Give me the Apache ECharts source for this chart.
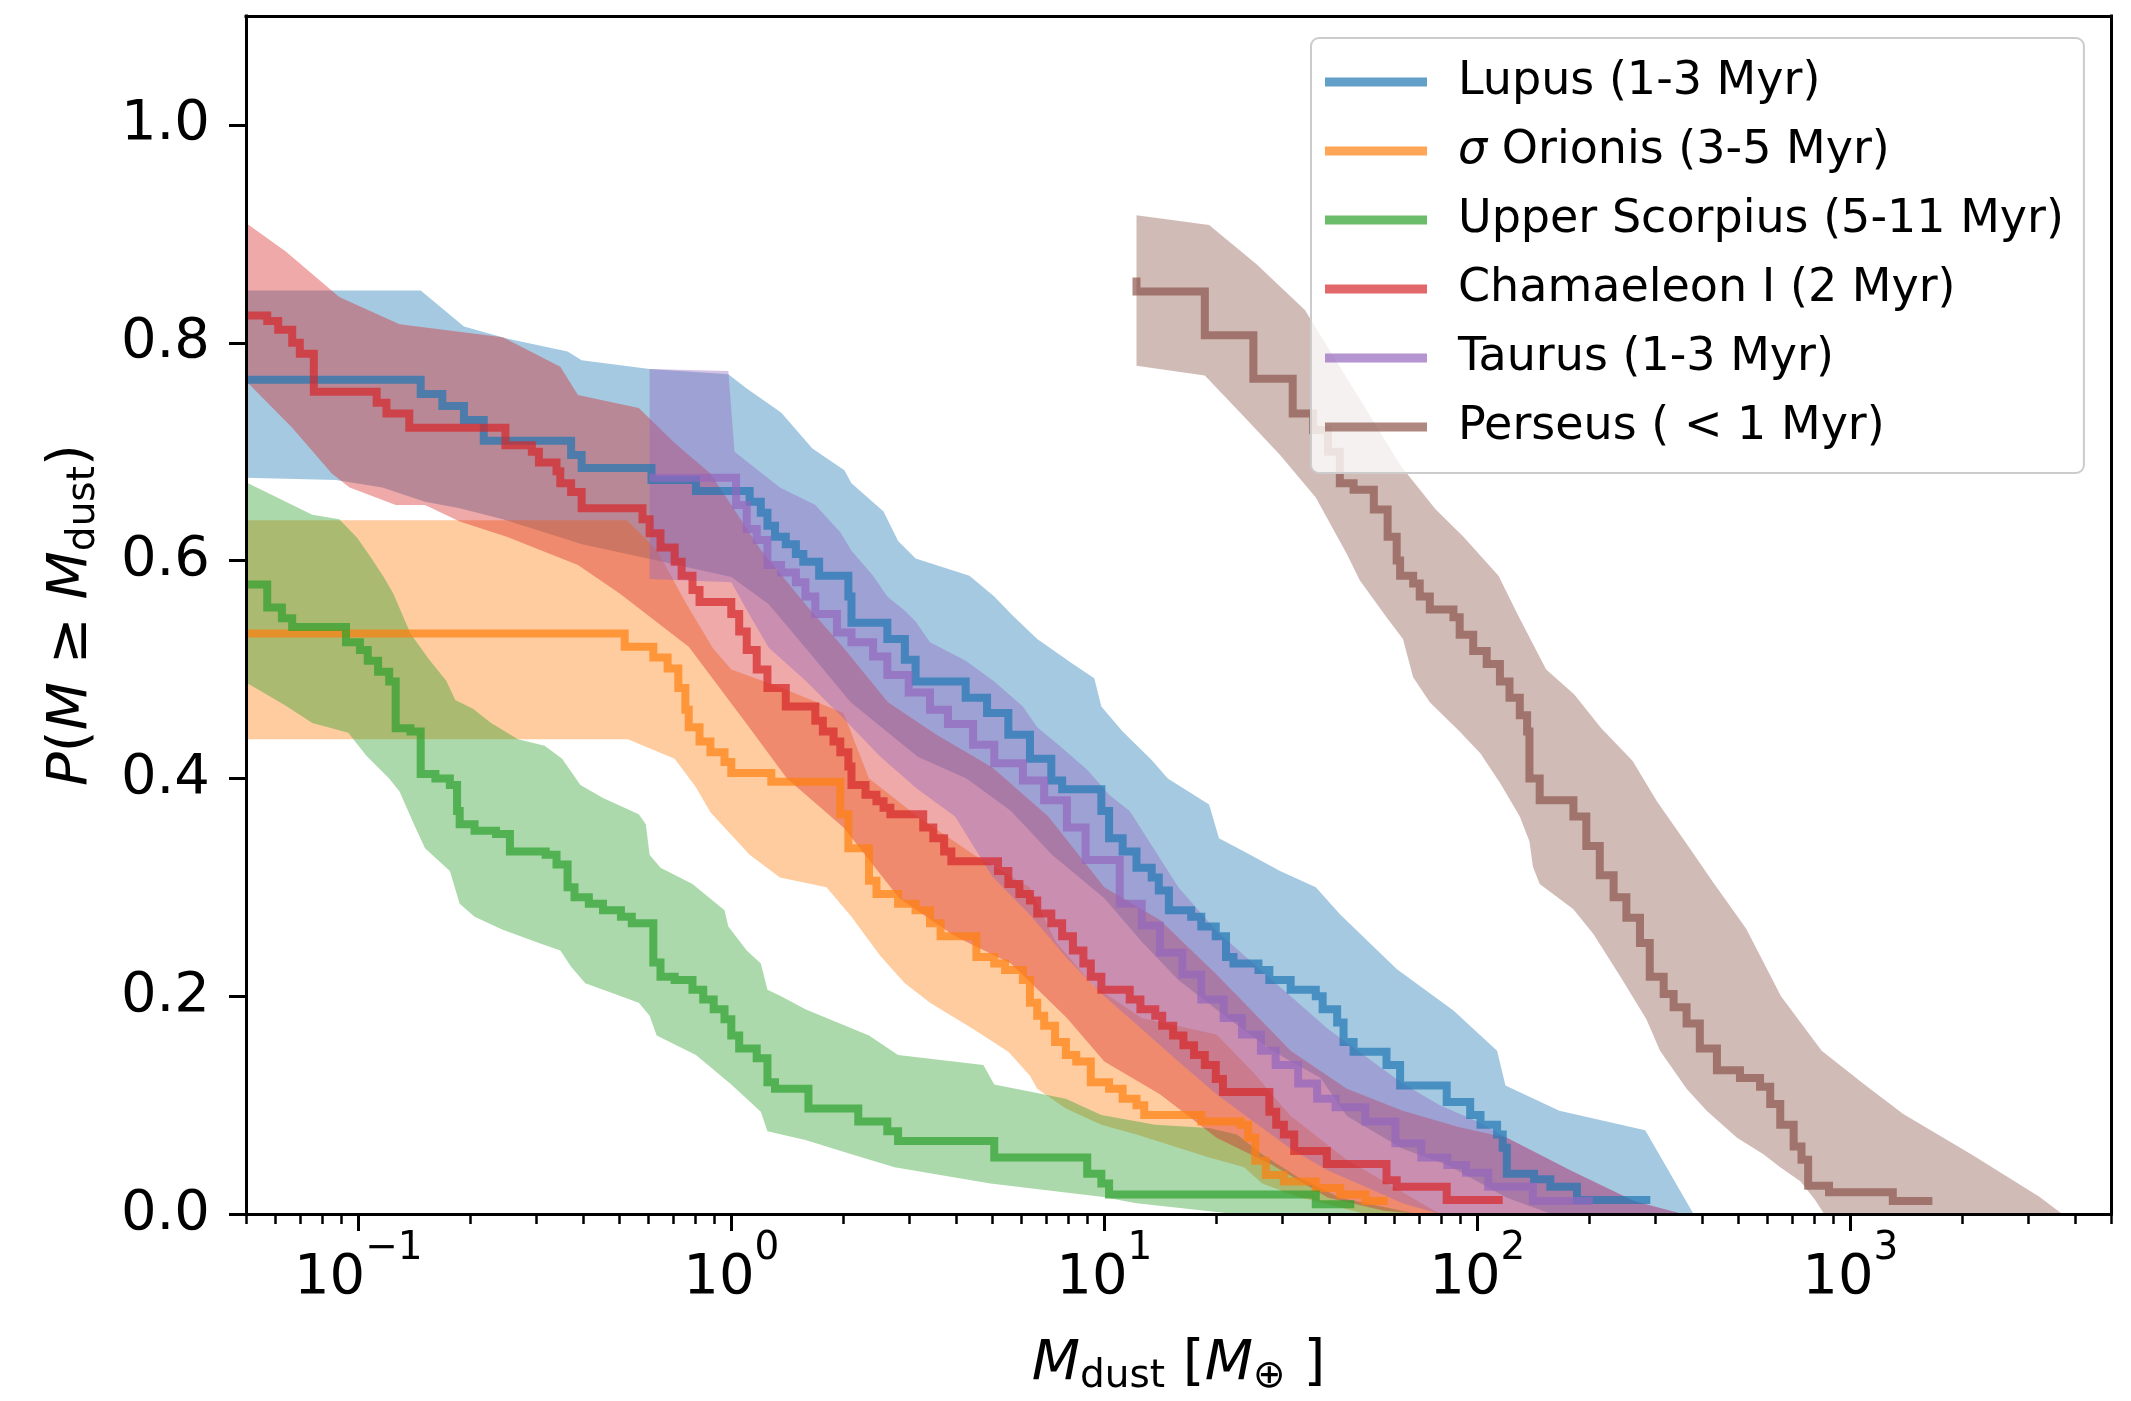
<!DOCTYPE html>
<html>
<head>
<meta charset="utf-8">
<script src="https://cdn.jsdelivr.net/npm/echarts@6/dist/echarts.min.js"></script>
<style>
  html, body { margin: 0; padding: 0; background: #ffffff; }
  #chart { width: 2131px; height: 1401px; }
</style>
</head>
<body>
<div id="chart"></div>
<script>
// Cumulative dust-mass distributions P(M >= Mdust) per star-forming region.
// Each line is a list of [Mdust (Earth masses), probability] step points;
// *Hi / *Lo are the upper and lower edges of the confidence band.

const lupusLine = [[0.05,0.766],[0.147,0.753],[0.168,0.742],[0.192,0.729],[0.217,0.710],[0.372,0.697],[0.397,0.685],[0.611,0.674],[0.804,0.664],[1.12,0.654],[1.20,0.644],[1.25,0.632],[1.31,0.622],[1.40,0.615],[1.49,0.606],[1.56,0.599],[1.72,0.586],[2.06,0.567],[2.10,0.543],[2.62,0.528],[2.92,0.509],[3.12,0.489],[4.25,0.474],[4.85,0.460],[5.53,0.440],[6.32,0.418],[7.21,0.398],[7.71,0.390],[9.82,0.370],[10.3,0.345],[11.2,0.333],[12.2,0.318],[13.4,0.309],[14.0,0.297],[14.9,0.279],[17.1,0.273],[18.2,0.264],[19.9,0.255],[21.2,0.236],[22.2,0.230],[25.9,0.224],[27.7,0.215],[31.6,0.206],[36.9,0.200],[38.5,0.188],[42.1,0.176],[43.8,0.158],[46.6,0.149],[57.1,0.137],[62.1,0.118],[82.8,0.103],[95.7,0.091],[102,0.082],[113,0.073],[117,0.061],[120,0.037],[142,0.032],[157,0.025],[185,0.013],[291,0.013]];
const lupusHi = [[0.05,0.848],[0.147,0.848],[0.192,0.815],[0.250,0.804],[0.364,0.792],[0.397,0.784],[0.604,0.776],[0.982,0.771],[1.10,0.758],[1.36,0.736],[1.65,0.703],[2.01,0.683],[2.10,0.671],[2.56,0.645],[2.80,0.618],[3.12,0.602],[4.35,0.586],[5.07,0.567],[5.66,0.550],[6.61,0.528],[8.24,0.505],[9.40,0.492],[9.82,0.466],[11.2,0.443],[13.4,0.417],[14.8,0.400],[19.1,0.376],[20.3,0.345],[23.7,0.333],[29.6,0.315],[36.9,0.300],[42.9,0.275],[60.8,0.225],[86.3,0.187],[113,0.150],[119,0.118],[166,0.095],[282,0.077],[380,0]];
const lupusLo = [[0.05,0.676],[0.0871,0.674],[0.116,0.667],[0.151,0.654],[0.187,0.648],[0.244,0.638],[0.398,0.615],[0.631,0.600],[1.0,0.585],[1.26,0.56],[1.58,0.52],[2.09,0.47],[3.16,0.42],[4.27,0.40],[5.62,0.37],[7.24,0.33],[10,0.29],[12.6,0.25],[15.8,0.215],[21.4,0.18],[28.2,0.15],[38.0,0.125],[44.7,0.09],[63.1,0.06],[83.2,0.045],[120,0.015],[158,0]];

const sOriLine = [[0.05,0.533],[0.518,0.521],[0.618,0.511],[0.675,0.501],[0.721,0.483],[0.753,0.463],[0.769,0.447],[0.822,0.434],[0.879,0.424],[0.959,0.415],[1.00,0.405],[1.28,0.397],[1.96,0.367],[2.06,0.336],[2.34,0.306],[2.45,0.294],[2.80,0.285],[3.12,0.279],[3.41,0.267],[3.64,0.255],[4.54,0.236],[5.07,0.230],[5.42,0.224],[6.05,0.215],[6.32,0.194],[6.61,0.182],[6.90,0.173],[7.38,0.158],[7.89,0.146],[8.41,0.140],[9.20,0.121],[10.3,0.115],[11.2,0.106],[12.2,0.100],[12.8,0.091],[18.2,0.085],[23.2,0.082],[24.3,0.070],[25.4,0.049],[27.1,0.036],[30.3,0.030],[36.9,0.024],[42.9,0.018],[50.1,0.012],[57.5,0.012]];
const sOriHi = [[0.05,0.637],[0.525,0.637],[0.631,0.61],[0.759,0.56],[0.891,0.52],[1.0,0.50],[1.32,0.485],[2.0,0.46],[2.34,0.40],[3.16,0.365],[4.47,0.33],[6.31,0.30],[7.41,0.25],[9.33,0.21],[12.6,0.18],[20.0,0.165],[25.1,0.13],[31.6,0.09],[44.7,0.05],[63.1,0.02],[79.4,0]];
const sOriLo = [[0.05,0.436],[0.528,0.436],[0.705,0.418],[0.804,0.392],[0.879,0.369],[1.12,0.33],[1.35,0.309],[1.80,0.300],[2.10,0.273],[2.51,0.237],[2.92,0.212],[3.41,0.194],[4.45,0.170],[5.53,0.149],[6.32,0.127],[6.61,0.115],[7.89,0.097],[9.82,0.082],[12.2,0.073],[19.1,0.052],[23.7,0.043],[26.5,0.028],[33.0,0.016],[42.9,0.006],[50.1,0]];

const uScoLine = [[0.05,0.578],[0.0570,0.557],[0.0624,0.547],[0.0665,0.539],[0.0927,0.525],[0.101,0.518],[0.106,0.508],[0.113,0.498],[0.121,0.489],[0.126,0.446],[0.138,0.443],[0.147,0.404],[0.161,0.400],[0.176,0.394],[0.184,0.370],[0.187,0.358],[0.205,0.352],[0.234,0.349],[0.255,0.333],[0.318,0.330],[0.340,0.321],[0.364,0.300],[0.380,0.291],[0.415,0.285],[0.453,0.279],[0.506,0.273],[0.541,0.267],[0.618,0.231],[0.646,0.218],[0.705,0.215],[0.787,0.206],[0.841,0.197],[0.897,0.188],[0.959,0.179],[1.00,0.164],[1.05,0.152],[1.17,0.143],[1.25,0.121],[1.31,0.115],[1.61,0.097],[2.19,0.085],[2.62,0.076],[2.80,0.067],[5.07,0.052],[9.0,0.037],[9.82,0.028],[10.3,0.018],[36.9,0.009],[46.8,0.009]];
const uScoHi = [[0.05,0.672],[0.0753,0.642],[0.0889,0.638],[0.0993,0.621],[0.108,0.603],[0.117,0.585],[0.124,0.570],[0.138,0.533],[0.155,0.509],[0.172,0.490],[0.182,0.472],[0.203,0.464],[0.227,0.451],[0.268,0.436],[0.316,0.430],[0.352,0.418],[0.394,0.394],[0.453,0.382],[0.565,0.367],[0.590,0.358],[0.604,0.330],[0.646,0.318],[0.787,0.303],[0.959,0.279],[0.982,0.264],[1.10,0.242],[1.20,0.230],[1.25,0.206],[1.36,0.200],[1.58,0.188],[2.34,0.164],[2.80,0.146],[4.74,0.137],[5.07,0.119],[7.89,0.106],[9.82,0.091],[13.7,0.082],[19.1,0.079],[22.7,0.073],[26.5,0.055],[33.0,0.034],[42.9,0.015],[69.2,0]];
const uScoLo = [[0.05,0.488],[0.0638,0.467],[0.0753,0.451],[0.0940,0.442],[0.105,0.421],[0.121,0.400],[0.129,0.388],[0.141,0.358],[0.151,0.336],[0.176,0.315],[0.187,0.285],[0.205,0.273],[0.244,0.261],[0.305,0.249],[0.348,0.242],[0.372,0.227],[0.406,0.212],[0.565,0.194],[0.604,0.182],[0.631,0.164],[0.804,0.146],[1.00,0.119],[1.20,0.094],[1.25,0.076],[1.58,0.068],[2.10,0.055],[2.74,0.043],[4.95,0.028],[9.82,0.016],[12.2,0.010],[22.4,0]];

const chamLine = [[0.05,0.825],[0.0570,0.820],[0.0610,0.812],[0.0665,0.800],[0.0697,0.790],[0.0760,0.755],[0.112,0.745],[0.119,0.735],[0.137,0.722],[0.248,0.706],[0.292,0.700],[0.305,0.690],[0.340,0.682],[0.348,0.671],[0.372,0.663],[0.397,0.648],[0.578,0.638],[0.604,0.625],[0.646,0.612],[0.705,0.599],[0.736,0.586],[0.787,0.573],[0.822,0.562],[1.00,0.551],[1.05,0.535],[1.10,0.518],[1.17,0.500],[1.25,0.483],[1.40,0.466],[1.68,0.453],[1.76,0.443],[1.88,0.434],[1.96,0.424],[2.06,0.411],[2.10,0.394],[2.29,0.385],[2.45,0.379],[2.56,0.373],[2.67,0.367],[3.27,0.355],[3.48,0.345],[3.72,0.333],[3.89,0.324],[5.19,0.315],[5.53,0.303],[5.92,0.294],[6.32,0.288],[6.61,0.276],[7.21,0.267],[7.71,0.255],[8.24,0.242],[8.79,0.230],[9.20,0.218],[9.82,0.206],[11.7,0.197],[12.5,0.188],[13.7,0.182],[14.3,0.173],[15.3,0.164],[16.3,0.155],[17.4,0.146],[18.6,0.137],[19.9,0.124],[20.8,0.112],[27.7,0.094],[28.9,0.082],[30.3,0.073],[32.3,0.058],[39.5,0.046],[57.1,0.031],[60.8,0.025],[82.8,0.013],[117,0.013]];
const chamHi = [[0.05,0.910],[0.0638,0.884],[0.0889,0.842],[0.129,0.817],[0.244,0.805],[0.348,0.778],[0.388,0.752],[0.565,0.740],[0.705,0.708],[0.879,0.680],[1.20,0.610],[1.58,0.56],[2.00,0.52],[2.63,0.47],[3.55,0.44],[5.01,0.41],[7.08,0.365],[10,0.30],[14.1,0.27],[20,0.22],[31.6,0.15],[44.7,0.115],[63.1,0.095],[89.1,0.08],[120,0.07],[178,0.04],[263,0.012],[355,0]];
const chamLo = [[0.05,0.765],[0.0665,0.722],[0.0849,0.680],[0.0948,0.667],[0.126,0.651],[0.151,0.651],[0.187,0.636],[0.250,0.622],[0.388,0.596],[0.501,0.57],[0.769,0.521],[1.10,0.45],[1.41,0.40],[2.00,0.355],[2.82,0.29],[3.98,0.255],[5.62,0.23],[7.94,0.18],[10,0.14],[14.1,0.11],[20,0.07],[28.2,0.045],[39.8,0.015],[56.2,0.003],[70.8,0]];

const taurusLine = [[0.604,0.676],[1.03,0.651],[1.10,0.629],[1.17,0.619],[1.25,0.596],[1.36,0.589],[1.49,0.580],[1.58,0.567],[1.68,0.551],[1.92,0.534],[2.10,0.525],[2.40,0.512],[2.62,0.495],[2.99,0.479],[3.41,0.463],[3.81,0.450],[4.45,0.431],[5.07,0.414],[6.05,0.398],[6.90,0.380],[7.94,0.355],[8.91,0.325],[11.0,0.285],[12.6,0.265],[14.1,0.240],[16.2,0.220],[18.2,0.197],[20.9,0.180],[23.4,0.165],[26.3,0.150],[28.8,0.137],[33.1,0.120],[37.2,0.106],[41.7,0.098],[50.1,0.085],[60.3,0.065],[70.8,0.052],[83.2,0.045],[93.3,0.038],[107,0.025],[141,0.012],[204,0.012]];
const taurusHi = [[0.604,0.776],[0.982,0.774],[1.02,0.70],[1.35,0.667],[1.68,0.651],[1.96,0.626],[2.10,0.609],[2.40,0.586],[2.62,0.567],[2.92,0.554],[3.12,0.544],[3.41,0.525],[4.25,0.508],[5.07,0.489],[6.05,0.466],[6.61,0.447],[7.53,0.431],[9.0,0.408],[10.3,0.385],[11.7,0.370],[15.8,0.30],[20.0,0.26],[25.1,0.23],[31.6,0.20],[39.8,0.17],[50.1,0.145],[63.1,0.12],[79.4,0.10],[100,0.085],[120,0.07],[178,0.04],[263,0.012],[355,0]];
const taurusLo = [[0.604,0.583],[1.0,0.58],[1.12,0.55],[1.26,0.52],[1.58,0.49],[2.0,0.455],[2.51,0.42],[3.16,0.39],[3.98,0.365],[5.01,0.31],[6.31,0.275],[7.94,0.235],[10,0.20],[12.6,0.17],[15.8,0.14],[20,0.11],[25.1,0.085],[31.6,0.06],[39.8,0.04],[50.1,0.025],[63.1,0.01],[79.4,0]];

const perseusLine = [[12.2,0.860],[12.2,0.847],[18.6,0.807],[25.1,0.767],[32.0,0.735],[36.3,0.720],[39.8,0.700],[42.8,0.671],[46.6,0.665],[52.8,0.647],[57.5,0.622],[60.8,0.600],[62.1,0.586],[67.3,0.579],[70.1,0.567],[74.6,0.555],[86.3,0.548],[89.7,0.532],[97.5,0.517],[106,0.505],[115,0.489],[122,0.474],[130,0.458],[136,0.443],[138,0.400],[147,0.380],[181,0.365],[196,0.338],[213,0.311],[232,0.291],[251,0.272],[273,0.249],[290,0.218],[316,0.202],[336,0.190],[364,0.175],[395,0.152],[439,0.132],[506,0.125],[573,0.117],[610,0.101],[649,0.082],[705,0.062],[740,0.050],[771,0.026],[877,0.020],[1300,0.012],[1660,0.012]];
const perseusHi = [[12.2,0.917],[19.1,0.908],[25.6,0.872],[34.5,0.830],[62.7,0.686],[77.4,0.647],[91.8,0.622],[114,0.586],[129,0.549],[153,0.500],[182,0.477],[215,0.446],[261,0.416],[303,0.379],[359,0.343],[426,0.306],[526,0.262],[652,0.200],[838,0.150],[1100,0.118],[1387,0.092],[2109,0.055],[3213,0.016],[3700,0]];
const perseusLo = [[12.2,0.779],[18.6,0.770],[23.7,0.732],[29.6,0.697],[36.9,0.658],[44.7,0.606],[48.4,0.582],[57.1,0.548],[63.2,0.528],[67.3,0.493],[74.6,0.470],[89.7,0.443],[102,0.423],[115,0.396],[130,0.365],[138,0.342],[141,0.319],[147,0.303],[181,0.280],[205,0.257],[242,0.218],[284,0.179],[309,0.150],[364,0.115],[412,0.095],[497,0.070],[585,0.055],[649,0.043],[736,0.030],[805,0.013],[851,0]];

const regionNames = ['Lupus (1-3 Myr)', 'σ Orionis (3-5 Myr)', 'Upper Scorpius (5-11 Myr)', 'Chamaeleon I (2 Myr)', 'Taurus (1-3 Myr)', 'Perseus ( < 1 Myr)'];

// Axis ticks
const yTicks = [0, 0.2, 0.4, 0.6, 0.8, 1.0];
const xMajorTicks = [0.1, 1, 10, 100, 1000];
const xMinorTicks = [0.05, 0.06, 0.07, 0.08, 0.09, 0.2, 0.3, 0.4, 0.5, 0.6, 0.7, 0.8, 0.9,
  2, 3, 4, 5, 6, 7, 8, 9, 20, 30, 40, 50, 60, 70, 80, 90,
  200, 300, 400, 500, 600, 700, 800, 900, 2000, 3000, 4000, 5000];

// ---------------------------------------------------------------------------
const FONT = 'DejaVu Sans';
const palette = [[31,119,180],[255,127,14],[44,160,44],[214,39,40],[148,103,189],[140,86,75]];
const rgba = (c, a) => `rgba(${c[0]},${c[1]},${c[2]},${a})`;

const regions = [
  { line: lupusLine, hi: lupusHi, lo: lupusLo },
  { line: sOriLine, hi: sOriHi, lo: sOriLo },
  { line: uScoLine, hi: uScoHi, lo: uScoLo },
  { line: chamLine, hi: chamHi, lo: chamLo },
  { line: taurusLine, hi: taurusHi, lo: taurusLo },
  { line: perseusLine, hi: perseusHi, lo: perseusLo }
].map((r, i) => Object.assign(r, { name: regionNames[i], rgb: palette[i] }));

const BAND_ALPHA = 0.4;
const LINE_ALPHA = 0.7;

// Shaded band: polygon along the upper edge, back along the lower edge
const bandSeries = regions.map(r => ({
  type: 'custom',
  name: r.name + ' interval',
  xAxisIndex: 0,
  yAxisIndex: 0,
  silent: true,
  z: 1,
  data: [r.hi[0]],
  encode: { x: 0, y: 1 },
  renderItem: (params, api) => {
    const pts = r.hi.map(p => api.coord(p));
    for (let i = r.lo.length - 1; i >= 0; i--) pts.push(api.coord(r.lo[i]));
    return {
      type: 'polygon',
      shape: { points: pts },
      style: { fill: rgba(r.rgb, BAND_ALPHA), stroke: null }
    };
  }
}));

const lineSeries = regions.map(r => ({
  type: 'line',
  name: r.name,
  data: r.line,
  step: 'end',
  symbol: 'none',
  showSymbol: false,
  silent: true,
  z: 3,
  itemStyle: { color: rgba(r.rgb, LINE_ALPHA) },
  lineStyle: { color: rgba(r.rgb, LINE_ALPHA), width: 8, cap: 'butt', join: 'miter' }
}));

const mathRich = {
  n: { fontFamily: FONT, fontSize: 56, color: '#000', lineHeight: 64 },
  i: { fontFamily: FONT, fontSize: 56, fontStyle: 'italic', color: '#000', lineHeight: 64 },
  sub: { fontFamily: FONT, fontSize: 39, color: '#000', lineHeight: 39, padding: [25, 0, 0, 0] }
};

const tickRich = {
  b: { fontFamily: FONT, fontSize: 56, color: '#000', lineHeight: 64 },
  e: { fontFamily: FONT, fontSize: 39, color: '#000', lineHeight: 39, padding: [0, 0, 59, 0] }
};

const spine = { show: true, onZero: false, lineStyle: { color: '#000', width: 3, cap: 'square' } };

const option = {
  animation: false,
  backgroundColor: '#ffffff',
  grid: { left: 246, right: 20, top: 16, bottom: 174, containLabel: false },
  legend: {
    data: regions.map(r => ({ name: r.name, itemStyle: { color: rgba(r.rgb, LINE_ALPHA) } })),
    orient: 'vertical',
    left: 1311,
    top: 38,
    padding: [21, 20, 23, 14],
    itemGap: 23,
    itemWidth: 102,
    itemHeight: 9,
    icon: 'rect',
    selectedMode: false,
    backgroundColor: 'rgba(255,255,255,0.8)',
    borderColor: '#cccccc',
    borderWidth: 2,
    borderRadius: 8,
    formatter: name => name.replace('σ', '{i|σ}'),
    textStyle: {
      fontFamily: FONT, fontSize: 46, color: '#000', padding: [0, 0, 0, 26],
      rich: { i: { fontFamily: FONT, fontSize: 46, fontStyle: 'italic', color: '#000' } }
    }
  },
  xAxis: [
    {
      type: 'log', logBase: 10, min: 0.05, max: 5000, position: 'bottom', z: 10,
      axisLine: spine,
      splitLine: { show: false },
      axisTick: { show: true, length: 17, customValues: xMajorTicks, lineStyle: { color: '#000', width: 3 } },
      axisLabel: {
        customValues: xMajorTicks, margin: 32,
        formatter: v => {
          const e = Math.round(Math.log10(v));
          return '{b|10}{e|' + (e < 0 ? '\u2212' + (-e) : String(e)) + '}';
        },
        rich: tickRich
      },
      name: '{i|M}{sub|dust}{n| [}{i|M}{sub|\u2295}{n| ]}',
      nameLocation: 'middle',
      nameGap: 117,
      nameTextStyle: { fontFamily: FONT, fontSize: 56, color: '#000', rich: mathRich }
    },
    {
      type: 'log', logBase: 10, min: 0.05, max: 5000, position: 'bottom', z: 10,
      axisLine: { show: false },
      splitLine: { show: false },
      axisLabel: { show: false },
      axisTick: { show: true, length: 10, customValues: xMinorTicks, lineStyle: { color: '#000', width: 2.5 } }
    },
    {
      type: 'log', logBase: 10, min: 0.05, max: 5000, position: 'top', z: 10,
      axisLine: spine,
      splitLine: { show: false },
      axisLabel: { show: false },
      axisTick: { show: false }
    }
  ],
  yAxis: [
    {
      type: 'value', min: 0, max: 1.1, position: 'left', z: 10,
      axisLine: spine,
      splitLine: { show: false },
      axisTick: { show: true, length: 17, customValues: yTicks, lineStyle: { color: '#000', width: 3 } },
      axisLabel: {
        customValues: yTicks, margin: 36,
        formatter: v => v.toFixed(1),
        fontFamily: FONT, fontSize: 56, color: '#000'
      },
      name: '{i|P}{n|(}{i|M}{n| \u2265 }{i|M}{sub|dust}{n|)}',
      nameLocation: 'middle',
      nameRotate: 90,
      nameGap: 143,
      nameTextStyle: { fontFamily: FONT, fontSize: 56, color: '#000', rich: mathRich }
    },
    {
      type: 'value', min: 0, max: 1.1, position: 'right', z: 10,
      axisLine: spine,
      splitLine: { show: false },
      axisLabel: { show: false },
      axisTick: { show: false }
    }
  ],
  series: bandSeries.concat(lineSeries)
};

const chart = echarts.init(document.getElementById('chart'), null, { renderer: 'canvas', width: 2131, height: 1401 });
chart.setOption(option);
</script>
</body>
</html>
